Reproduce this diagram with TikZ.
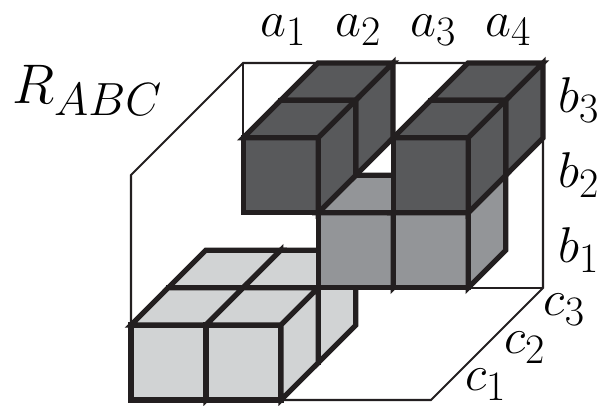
\documentclass[tikz,border=0pt]{standalone}
\usepackage{amsmath}
\definecolor{lightcube}{HTML}{D1D3D4}
\definecolor{midcube}{HTML}{939598}
\definecolor{darkcube}{HTML}{58595B}
\definecolor{edgeblack}{HTML}{231F20}
\tikzset{
  thinedge/.style={draw=edgeblack, line width=1.2pt},
  cubeface/.style={draw=edgeblack, line width=3pt, line join=miter},
  biglabel/.style={font=\Huge, scale=1.15, inner sep=0pt}
}
\newcommand{\cubie}[4]{ % #1: column, #2: height, #3: depth, #4: fill colour
  \filldraw[cubeface, fill=#4] (#1,#2,#3) -- ++(1,0,0) -- ++(0,1,0) -- ++(-1,0,0) -- cycle; % front
  \filldraw[cubeface, fill=#4] (#1,#2+1,#3) -- ++(1,0,0) -- ++(0,0,1) -- ++(-1,0,0) -- cycle; % top
  \filldraw[cubeface, fill=#4] (#1+1,#2,#3) -- ++(0,0,1) -- ++(0,1,0) -- ++(0,0,-1) -- cycle; % right side
}

\begin{document}
\begin{tikzpicture}[x=1.5cm, y=1.5cm, z={(0.7467cm,0.7467cm)}]
\useasboundingbox (-2.62cm,-0.1cm) rectangle (9.44cm,8cm);

% Thin frame of the box
\draw[thinedge] (0,1,0) -- (0,3,0) -- (0,3,3) -- (4,3,3) -- (4,0,3) -- (4,0,0) -- (0,0,0);
\draw[thinedge] (0,3,3) -- (0,1,3);
\draw[thinedge] (3,0,3) -- (4,0,3);

% Light cubes on the floor
\foreach \z in {1,0}
{
  \foreach \x in {0,1}
  {
    \cubie{\x}{0}{\z}{lightcube}
  }
}

% Middle cubes
\foreach \x in {2,3}
{
  \cubie{\x}{1}{1}{midcube}
}

% Dark cubes
\foreach \z in {2,1}
{
  \foreach \x in {1,3}
  {
    \cubie{\x}{2}{\z}{darkcube}
  }
}

% Labels
\node[biglabel, scale=1.11] (rabc) at (-0.58,4.13) {$R_{ABC}$};
\foreach \i in {1,...,4}
{
  \node[biglabel] (a\i) at (\i+1.03,4.93) {$a_{\i}$};
}
\node[biglabel] (b3) at (5.97,4) {$b_3$};
\node[biglabel] (b2) at (5.97,3) {$b_2$};
\node[biglabel] (b1) at (5.97,2) {$b_1$};
\node[biglabel] (c3) at (5.78,1.2) {$c_3$};
\node[biglabel] (c2) at (5.25,0.7) {$c_2$};
\node[biglabel] (c1) at (4.73,0.2) {$c_1$};

\end{tikzpicture}
\end{document}
